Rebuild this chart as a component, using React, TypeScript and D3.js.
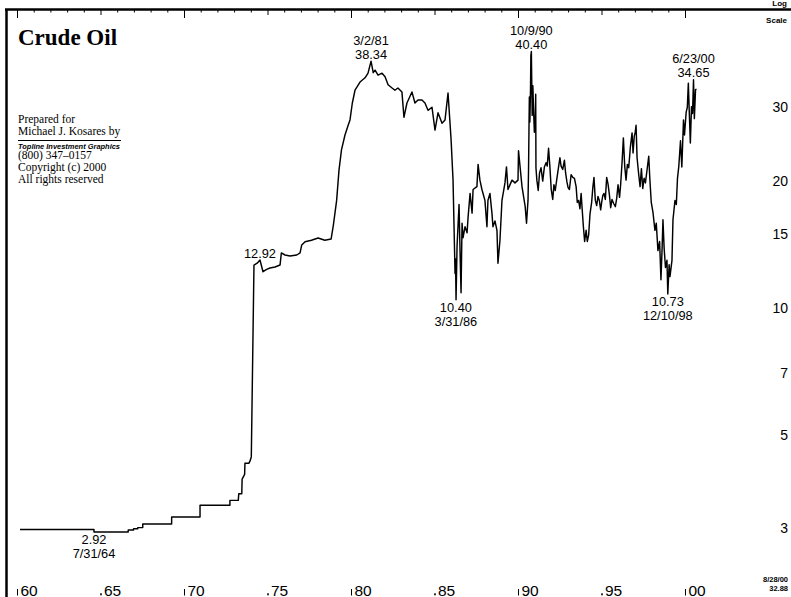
import React from "react";
import * as d3 from "d3";

const W = 791;
const H = 597;

// [decimal year, price]
const prices1960s: [number, number][] = [
  [1960.15, 2.96], [1964.58, 2.96], [1964.58, 2.92], [1966.63, 2.92], [1966.63, 2.95],
  [1966.95, 2.95], [1966.95, 2.97], [1967.2, 2.97], [1967.2, 2.99], [1967.5, 2.99],
  [1967.5, 3.05], [1969.23, 3.05], [1969.23, 3.17], [1970.93, 3.17], [1970.93, 3.38],
  [1972.72, 3.38], [1972.72, 3.47], [1973.22, 3.47], [1973.25, 3.6], [1973.43, 3.6],
];

const prices1970s: [number, number][] = [
  [1973.45, 3.9], [1973.6, 4.0], [1973.62, 4.25], [1973.85, 4.25], [1973.92, 4.3],
  [1974.0, 4.4], [1974.16, 12.57], [1974.35, 12.7], [1974.52, 12.92], [1974.7, 12.12],
  [1974.92, 12.28], [1975.12, 12.37], [1975.42, 12.44], [1975.72, 12.57], [1975.8, 13.43],
  [1976.02, 13.28], [1976.32, 13.21], [1976.72, 13.28], [1976.92, 13.43], [1977.02, 14.03],
  [1977.22, 14.28], [1977.6, 14.4], [1978.0, 14.57], [1978.4, 14.4], [1978.78, 14.5],
];

const prices1980s: [number, number][] = [
  [1978.91, 15.6], [1979.11, 17.9], [1979.25, 21.1], [1979.4, 23.6], [1979.61, 25.6],
  [1979.8, 27.0], [1979.91, 27.8], [1980.05, 30.5], [1980.21, 32.7], [1980.51, 34.2],
  [1980.81, 35.0], [1980.99, 35.9], [1981.17, 38.34], [1981.3, 36.0], [1981.41, 36.5],
  [1981.59, 35.5], [1981.83, 35.9], [1982.01, 35.2], [1982.19, 33.7], [1982.43, 33.1],
  [1982.6, 32.7], [1982.78, 33.1], [1983.02, 32.4], [1983.14, 28.2], [1983.32, 30.5],
  [1983.62, 32.4], [1983.8, 30.5], [1983.98, 31.0], [1984.22, 31.0], [1984.4, 30.5],
  [1984.58, 29.3], [1984.82, 29.8], [1985.0, 26.3], [1985.18, 28.9], [1985.42, 27.3],
  [1985.6, 27.8], [1985.78, 32.2], [1985.96, 25.1],
];

const prices1986to1990: [number, number][] = [
  [1986.08, 20.0], [1986.14, 15.5], [1986.2, 12.0], [1986.23, 13.0], [1986.26, 10.4],
  [1986.32, 13.9], [1986.44, 17.5], [1986.5, 13.5], [1986.56, 10.8], [1986.62, 15.8],
  [1986.68, 14.6], [1986.8, 15.5], [1986.92, 15.0], [1986.98, 16.3], [1987.1, 18.6],
  [1987.22, 16.7], [1987.28, 19.0], [1987.51, 19.3], [1987.58, 21.8], [1987.69, 20.0],
  [1987.81, 19.0], [1987.99, 17.9], [1988.11, 15.5], [1988.17, 17.9], [1988.29, 18.6],
  [1988.41, 16.7], [1988.47, 15.5], [1988.59, 16.0], [1988.71, 15.2], [1988.77, 12.7],
  [1988.89, 14.4], [1989.01, 17.9], [1989.19, 19.7], [1989.28, 21.5], [1989.37, 19.0],
  [1989.61, 20.0], [1989.79, 19.7], [1989.97, 20.0], [1990.0, 23.5], [1990.21, 19.3],
  [1990.4, 17.3], [1990.48, 15.8], [1990.57, 17.9],
];

const prices1990s: [number, number][] = [
  [1990.6, 21.0], [1990.63, 27.0], [1990.65, 31.5], [1990.68, 27.5], [1990.72, 33.0],
  [1990.74, 39.5], [1990.77, 40.4], [1990.79, 35.0], [1990.82, 28.5], [1990.86, 33.5],
  [1990.9, 29.5], [1990.95, 26.0], [1991.0, 27.5], [1991.03, 32.0], [1991.045, 21.4],
  [1991.1, 20.0], [1991.18, 18.9], [1991.26, 20.8], [1991.35, 21.4], [1991.45, 19.9],
  [1991.55, 21.5], [1991.65, 22.0], [1991.72, 21.6], [1991.8, 23.8], [1991.88, 21.5],
  [1991.96, 19.0], [1992.05, 18.0], [1992.12, 19.5], [1992.2, 18.9], [1992.3, 20.2],
  [1992.4, 21.5], [1992.48, 22.6], [1992.55, 21.6], [1992.65, 21.2], [1992.75, 22.3],
  [1992.82, 20.8], [1992.9, 19.8], [1992.97, 19.2], [1993.05, 19.0], [1993.15, 20.6],
  [1993.25, 20.3], [1993.35, 20.2], [1993.45, 19.3], [1993.52, 17.7], [1993.6, 17.9],
  [1993.68, 17.1], [1993.75, 18.6], [1993.82, 16.9], [1993.88, 15.6], [1993.96, 14.3],
  [1994.05, 15.2], [1994.12, 14.3], [1994.2, 14.8], [1994.28, 16.6], [1994.38, 17.7],
  [1994.45, 19.2], [1994.52, 20.3], [1994.6, 17.9], [1994.68, 17.4], [1994.76, 18.3],
  [1994.84, 17.9], [1994.92, 17.0], [1994.98, 17.7], [1995.05, 18.4], [1995.12, 18.6],
  [1995.2, 18.0], [1995.28, 20.3], [1995.36, 19.6], [1995.44, 18.5], [1995.52, 17.2],
  [1995.6, 18.0], [1995.7, 17.6], [1995.8, 17.3], [1995.88, 18.1], [1995.96, 19.5],
  [1996.05, 18.2], [1996.12, 19.6], [1996.2, 22.0], [1996.28, 25.2], [1996.36, 21.6],
  [1996.44, 20.0], [1996.52, 21.8], [1996.6, 21.4], [1996.7, 24.0], [1996.8, 25.9],
  [1996.86, 23.2], [1996.93, 25.4], [1996.99, 26.0], [1997.04, 27.0], [1997.1, 22.6],
  [1997.2, 20.6], [1997.28, 19.3], [1997.36, 21.3], [1997.44, 19.1], [1997.52, 20.2],
  [1997.6, 19.7], [1997.7, 21.2], [1997.8, 22.8], [1997.86, 20.3], [1997.95, 17.7],
  [1998.05, 16.8], [1998.17, 15.2], [1998.25, 15.8], [1998.35, 13.6], [1998.45, 14.3],
  [1998.53, 11.6], [1998.6, 13.8], [1998.65, 16.1], [1998.72, 13.8], [1998.8, 12.4],
  [1998.89, 12.9], [1998.94, 10.73], [1999.02, 12.6], [1999.07, 11.8], [1999.19, 12.9],
  [1999.25, 16.1], [1999.37, 17.9], [1999.45, 17.5], [1999.52, 20.2], [1999.6, 21.6],
  [1999.7, 24.8], [1999.78, 21.5], [1999.88, 27.8], [1999.94, 25.6], [2000.04, 29.0],
  [2000.11, 29.8], [2000.17, 34.0], [2000.22, 29.5], [2000.29, 24.5], [2000.36, 29.9],
  [2000.42, 28.8], [2000.48, 34.65], [2000.53, 28.0], [2000.6, 32.8], [2000.66, 32.88],
];

const yTickValues = [3, 5, 7, 10, 15, 20, 30];
const xTickYears = [1960, 1965, 1970, 1975, 1980, 1985, 1990, 1995, 2000];
const xTickLabels = ["60", "65", "70", "75", "80", "85", "90", "95", "00"];

type Note = { year: number; value: number; date: string; label: string; pos: "above" | "below" };
const notes: Note[] = [
  { year: 1964.58, value: 2.92, date: "7/31/64", label: "2.92", pos: "below" },
  { year: 1974.52, value: 12.92, date: "", label: "12.92", pos: "above" },
  { year: 1981.17, value: 38.34, date: "3/2/81", label: "38.34", pos: "above" },
  { year: 1986.25, value: 10.4, date: "3/31/86", label: "10.40", pos: "below" },
  { year: 1990.77, value: 40.4, date: "10/9/90", label: "40.40", pos: "above" },
  { year: 1998.94, value: 10.73, date: "12/10/98", label: "10.73", pos: "below" },
  { year: 2000.48, value: 34.65, date: "6/23/00", label: "34.65", pos: "above" },
];

const creditLines = ["(800) 347\u20130157", "Copyright (c) 2000", "All rights reserved"];

export default function App() {
  const x = d3.scaleLinear().domain([1960, 2000]).range([17.5, 685.5]);
  const y = d3.scaleLog().domain([3, 30]).range([527, 106]);
  const data = [...prices1960s, ...prices1970s, ...prices1980s, ...prices1986to1990, ...prices1990s];
  const line = d3
    .line<[number, number]>()
    .x((d) => x(d[0]))
    .y((d) => y(d[1]));
  const years = d3.range(1960, 2001);
  const sans = "'Liberation Sans', Arial, Helvetica, sans-serif";
  const serif = "'Liberation Serif', 'Times New Roman', serif";
  const last = prices1990s[prices1990s.length - 1];

  return (
    <div style={{ position: "absolute", left: 0, top: 0 }}>
      <svg width={W} height={H} style={{ display: "block", background: "#fff" }}>
        <rect x={0} y={0} width={W} height={H} fill="#fff" />
        {/* frame */}
        <line x1={6.5} y1={9} x2={6.5} y2={H} stroke="#000" strokeWidth={2.5} />
        <line x1={5} y1={9.5} x2={W} y2={9.5} stroke="#000" strokeWidth={2.5} />
        {/* top ticks */}
        {years.map((yr) => {
          const len = yr % 10 === 0 ? 8 : yr % 5 === 0 ? 5 : 2.5;
          return (
            <line key={yr} x1={x(yr)} x2={x(yr)} y1={10} y2={10 + len} stroke="#000" strokeWidth={1} />
          );
        })}
        {/* bottom labels */}
        {xTickYears.map((yr, i) => {
          const xx = x(yr);
          const decade = yr % 10 === 0;
          return (
            <g key={yr}>
              {decade ? (
                <line x1={xx} x2={xx} y1={589} y2={595.5} stroke="#000" strokeWidth={1} />
              ) : (
                <rect x={xx - 0.8} y={593.3} width={1.6} height={2} fill="#000" />
              )}
              <text x={xx + 3} y={595.5} fontFamily={sans} fontSize={15.5} fill="#000">
                {xTickLabels[i]}
              </text>
            </g>
          );
        })}
        {/* right axis */}
        {yTickValues.map((v) => (
          <text
            key={v}
            x={788}
            y={y(v) + 1}
            textAnchor="end"
            dominantBaseline="central"
            fontFamily={sans}
            fontSize={14}
            fill="#000"
          >
            {v}
          </text>
        ))}
        <text x={787} y={5.5} textAnchor="end" fontFamily={sans} fontWeight="bold" fontSize={8} fill="#000">
          Log
        </text>
        <text x={787} y={23} textAnchor="end" fontFamily={sans} fontWeight="bold" fontSize={8} fill="#000">
          Scale
        </text>
        {/* title and credits */}
        <text x={18} y={45} fontFamily={serif} fontWeight="bold" fontSize={23} fill="#000">
          Crude Oil
        </text>
        <text x={18} y={123} fontFamily={serif} fontSize={11.5} fill="#000">
          Prepared for
        </text>
        <text x={18} y={135} fontFamily={serif} fontSize={11.5} fill="#000">
          Michael J. Kosares by
        </text>
        <line x1={18} x2={121} y1={140.5} y2={140.5} stroke="#000" strokeWidth={1} />
        <text
          x={18}
          y={148.5}
          fontFamily={sans}
          fontWeight="bold"
          fontStyle="italic"
          fontSize={8}
          textLength={102}
          lengthAdjust="spacingAndGlyphs"
          fill="#000"
        >
          Topline Investment Graphics
        </text>
        {creditLines.map((t, i) => (
          <text key={t} x={18} y={158.5 + i * 12} fontFamily={serif} fontSize={11.5} fill="#000">
            {t}
          </text>
        ))}
        {/* price line */}
        <path d={line(data) || ""} fill="none" stroke="#000" strokeWidth={1.45} strokeLinejoin="round" />
        {/* annotations */}
        {notes.map((n) => {
          const px = x(n.year);
          const py = y(n.value);
          const above = n.pos === "above";
          return (
            <g key={n.label} fontFamily={sans} fontSize={12.8} fill="#000" textAnchor="middle">
              {above ? (
                <>
                  {n.date && <text x={px} y={py - 16.5}>{n.date}</text>}
                  <text x={px} y={py - 2.5}>{n.label}</text>
                </>
              ) : (
                <>
                  <text x={px} y={py + 12.5}>{n.label}</text>
                  <text x={px} y={py + 26.5}>{n.date}</text>
                </>
              )}
            </g>
          );
        })}
        {/* last value */}
        <text x={788} y={582} textAnchor="end" fontFamily={sans} fontWeight="bold" fontSize={7.5} fill="#000">
          8/28/00
        </text>
        <text x={788} y={590.5} textAnchor="end" fontFamily={sans} fontWeight="bold" fontSize={7.5} fill="#000">
          {last[1].toFixed(2)}
        </text>
      </svg>
    </div>
  );
}
